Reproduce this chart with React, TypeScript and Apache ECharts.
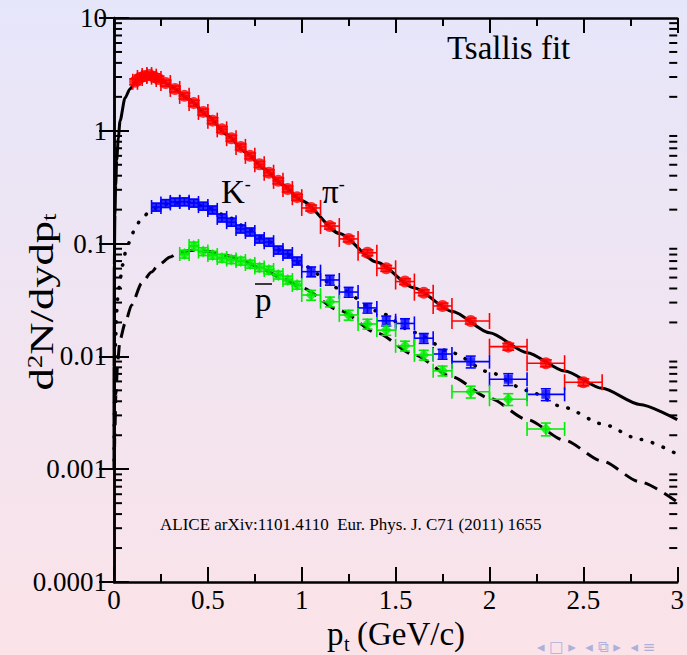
import React, { useEffect, useRef } from 'react';
import * as echarts from 'echarts';

// ---------- data ----------
// pi- (red circles)
const piX = [0.1125, 0.1375, 0.1625, 0.1875, 0.2125, 0.2375, 0.275, 0.325, 0.375, 0.425, 0.475, 0.525, 0.575, 0.625, 0.675, 0.725, 0.775, 0.825, 0.875, 0.925, 0.975, 1.05, 1.15, 1.25, 1.35, 1.45, 1.55, 1.65, 1.75, 1.9, 2.1, 2.3, 2.5];
const piY = [2.72, 2.94, 3.06, 3.12, 3.02, 2.88, 2.65, 2.35, 2.04, 1.76, 1.47, 1.23, 1.03, 0.86, 0.72, 0.6, 0.505, 0.425, 0.36, 0.305, 0.258, 0.207, 0.143, 0.11, 0.083, 0.0604, 0.0461, 0.0367, 0.028, 0.0206, 0.0122, 0.0087, 0.0059];
const piXErr = [0.0125, 0.0125, 0.0125, 0.0125, 0.0125, 0.0125, 0.025, 0.025, 0.025, 0.025, 0.025, 0.025, 0.025, 0.025, 0.025, 0.025, 0.025, 0.025, 0.025, 0.025, 0.025, 0.05, 0.05, 0.05, 0.05, 0.05, 0.05, 0.05, 0.05, 0.1, 0.1, 0.1, 0.1];
const piYErr = [0.06, 0.06, 0.06, 0.06, 0.06, 0.06, 0.06, 0.06, 0.06, 0.06, 0.06, 0.06, 0.06, 0.06, 0.06, 0.06, 0.06, 0.06, 0.06, 0.06, 0.06, 0.06, 0.06, 0.06, 0.06, 0.06, 0.06, 0.06, 0.06, 0.06, 0.07, 0.07, 0.07];

// K- (blue squares)
const kX = [0.225, 0.275, 0.325, 0.375, 0.425, 0.475, 0.525, 0.575, 0.625, 0.675, 0.725, 0.775, 0.825, 0.875, 0.925, 0.975, 1.05, 1.15, 1.25, 1.35, 1.45, 1.55, 1.65, 1.75, 1.9, 2.1, 2.3];
const kY = [0.211, 0.227, 0.234, 0.235, 0.229, 0.215, 0.199, 0.169, 0.155, 0.135, 0.127, 0.11, 0.103, 0.0878, 0.0809, 0.0702, 0.0564, 0.0476, 0.0372, 0.0269, 0.0207, 0.0196, 0.0145, 0.0105, 0.00898, 0.00627, 0.00461];
const kXErr = [0.025, 0.025, 0.025, 0.025, 0.025, 0.025, 0.025, 0.025, 0.025, 0.025, 0.025, 0.025, 0.025, 0.025, 0.025, 0.025, 0.05, 0.05, 0.05, 0.05, 0.05, 0.05, 0.05, 0.05, 0.1, 0.1, 0.1];
const kYErr = [0.08, 0.08, 0.08, 0.08, 0.08, 0.08, 0.08, 0.08, 0.08, 0.08, 0.08, 0.08, 0.08, 0.08, 0.08, 0.08, 0.1, 0.1, 0.1, 0.1, 0.1, 0.1, 0.1, 0.1, 0.12, 0.12, 0.12];

// anti-proton (green diamonds)
const pX = [0.375, 0.425, 0.475, 0.525, 0.575, 0.625, 0.675, 0.725, 0.775, 0.825, 0.875, 0.925, 0.975, 1.05, 1.15, 1.25, 1.35, 1.45, 1.55, 1.65, 1.75, 1.9, 2.1, 2.3];
const pY = [0.0809, 0.0953, 0.0851, 0.0792, 0.0745, 0.0722, 0.0701, 0.0659, 0.0614, 0.0583, 0.0527, 0.0476, 0.0429, 0.035, 0.0305, 0.0233, 0.0194, 0.0171, 0.0124, 0.0103, 0.00746, 0.00486, 0.00417, 0.00227];
const pXErr = [0.025, 0.025, 0.025, 0.025, 0.025, 0.025, 0.025, 0.025, 0.025, 0.025, 0.025, 0.025, 0.025, 0.05, 0.05, 0.05, 0.05, 0.05, 0.05, 0.05, 0.05, 0.1, 0.1, 0.1];
const pYErr = [0.08, 0.08, 0.08, 0.08, 0.08, 0.08, 0.08, 0.08, 0.08, 0.08, 0.08, 0.08, 0.08, 0.1, 0.1, 0.1, 0.1, 0.1, 0.1, 0.1, 0.1, 0.12, 0.12, 0.13];

// Tsallis fit curves
const piFitX = [0.00003, 0.0002, 0.0016, 0.005, 0.009, 0.0144, 0.023, 0.032, 0.0585, 0.085, 0.112, 0.15, 0.2, 0.25, 0.3, 0.4, 0.5, 0.6, 0.7, 0.8, 0.9, 1.0, 1.2, 1.4, 1.6, 1.8, 2.0, 2.2, 2.4, 2.6, 2.8, 3.0];
const piFitY = [0.001, 0.008, 0.065, 0.18, 0.33, 0.55, 0.86, 1.22, 1.95, 2.35, 2.65, 3.0, 3.05, 2.85, 2.5, 1.9, 1.35, 0.925, 0.648, 0.46, 0.33, 0.24, 0.123, 0.0684, 0.0405, 0.0251, 0.0162, 0.0108, 0.00741, 0.00521, 0.00375, 0.00275];
const kFitX = [0.0007, 0.0015, 0.004, 0.008, 0.0144, 0.0176, 0.0266, 0.0356, 0.046, 0.062, 0.085, 0.108, 0.1436, 0.2, 0.25, 0.3, 0.4, 0.5, 0.6, 0.7, 0.8, 0.9, 1.0, 1.2, 1.4, 1.6, 1.8, 2.0, 2.2, 2.4, 2.6, 2.8, 3.0];
const kFitY = [0.0012, 0.0026, 0.0069, 0.0138, 0.0249, 0.0316, 0.0404, 0.0509, 0.0646, 0.0848, 0.105, 0.132, 0.165, 0.2, 0.218, 0.228, 0.232, 0.2094, 0.175, 0.1406, 0.1104, 0.0853, 0.065, 0.0401, 0.0253, 0.0163, 0.01076, 0.00724, 0.00499, 0.00352, 0.00252, 0.00184, 0.00136];
const pFitX = [0.002, 0.004, 0.01, 0.02, 0.032, 0.0585, 0.094, 0.147, 0.2, 0.236, 0.3, 0.334, 0.4, 0.5, 0.6, 0.7, 0.8, 0.9, 1.0, 1.2, 1.4, 1.6, 1.8, 2.0, 2.2, 2.4, 2.6, 2.8, 3.0];
const pFitY = [0.001, 0.0019, 0.0046, 0.0092, 0.014, 0.0196, 0.0286, 0.0445, 0.056, 0.0646, 0.076, 0.081, 0.087, 0.0855, 0.0783, 0.0686, 0.0583, 0.0488, 0.0405, 0.0256, 0.01614, 0.01028, 0.00659, 0.00426, 0.00276, 0.0018, 0.00118, 0.000774, 0.000512];

// axes
const xTickLabels = ['0', '0.5', '1', '1.5', '2', '2.5', '3'];
const yTickLabels = ['0.0001', '0.001', '0.01', '0.1', '1', '10'];
const yMinorTicks = [
  0.0002, 0.0003, 0.0004, 0.0005, 0.0006, 0.0007, 0.0008, 0.0009,
  0.002, 0.003, 0.004, 0.005, 0.006, 0.007, 0.008, 0.009,
  0.02, 0.03, 0.04, 0.05, 0.06, 0.07, 0.08, 0.09,
  0.2, 0.3, 0.4, 0.5, 0.6, 0.7, 0.8, 0.9,
  2, 3, 4, 5, 6, 7, 8, 9,
];

const SERIF = 'Liberation Serif';
const RED = '#ff0000';
const BLUE = '#0000ff';
const GREEN = '#00ee00';

function errRenderer(color: string, capX: number, capY: number) {
  return (params: any, api: any) => {
    const x = api.value(0);
    const y = api.value(1);
    const dx = api.value(2);
    const dy = api.value(3);
    const c = api.coord([x, y]);
    const l = api.coord([x - dx, y]);
    const r = api.coord([x + dx, y]);
    const t = api.coord([x, y * (1 + dy)]);
    const b = api.coord([x, y * (1 - dy)]);
    const style = { stroke: color, lineWidth: 1.6 };
    return {
      type: 'group',
      children: [
        { type: 'line', shape: { x1: l[0], y1: c[1], x2: r[0], y2: c[1] }, style },
        { type: 'line', shape: { x1: l[0], y1: c[1] - capX, x2: l[0], y2: c[1] + capX }, style },
        { type: 'line', shape: { x1: r[0], y1: c[1] - capX, x2: r[0], y2: c[1] + capX }, style },
        { type: 'line', shape: { x1: c[0], y1: t[1], x2: c[0], y2: b[1] }, style },
        { type: 'line', shape: { x1: c[0] - capY, y1: t[1], x2: c[0] + capY, y2: t[1] }, style },
        { type: 'line', shape: { x1: c[0] - capY, y1: b[1], x2: c[0] + capY, y2: b[1] }, style },
      ],
    };
  };
}

function zip2(a: number[], b: number[]) {
  return a.map((v, i) => [v, b[i]]);
}
function zip4(a: number[], b: number[], c: number[], d: number[]) {
  return a.map((v, i) => [v, b[i], c[i], d[i]]);
}

function serifText(size: number, extra: any = {}) {
  return { fontSize: size, fontFamily: SERIF, fill: '#000', ...extra };
}

// single-token text whose box height is lineHeight; centred vertically on y
function label(text: string, x: number, y: number, size: number, lh: number, extra: any = {}) {
  return {
    type: 'text', x, y,
    style: {
      text: `{a|${text}}`, verticalAlign: 'middle', align: 'left',
      rich: { a: serifText(size, { lineHeight: lh }) },
    },
    ...extra,
  };
}

export default function App() {
  const ref = useRef<HTMLDivElement>(null);
  useEffect(() => {
    if (!ref.current) return;
    const chart = echarts.init(ref.current, null, { renderer: 'svg' });

    const axisLine = { show: true, lineStyle: { color: '#000', width: 2.5 } };
    const tickRich = { s: { color: '#000', fontFamily: SERIF, fontSize: 27, lineHeight: 24 } };

    const option: any = {
      animation: false,
      textStyle: { fontFamily: SERIF },
      backgroundColor: new echarts.graphic.LinearGradient(0, 0, 0, 1, [
        { offset: 0, color: '#e6e6fa' },
        { offset: 1, color: '#fbe3e8' },
      ]),
      grid: { left: 114, right: 9, top: 18, bottom: 73, containLabel: false },
      xAxis: [
        {
          type: 'value', min: 0, max: 3, interval: 0.5, position: 'bottom',
          axisLine, splitLine: { show: false },
          axisTick: { show: true, inside: true, length: 15, lineStyle: { color: '#000', width: 2 } },
          minorTick: { show: true, splitNumber: 2, length: 8, lineStyle: { color: '#000', width: 2 } },
          minorSplitLine: { show: false },
          axisLabel: {
            margin: 6, rich: tickRich,
            formatter: (v: number) => `{s|${xTickLabels[Math.round(v * 2)] ?? ''}}`,
          },
        },
        {
          type: 'value', min: 0, max: 3, interval: 0.5, position: 'top',
          axisLine, splitLine: { show: false },
          axisTick: { show: true, inside: true, length: 15, lineStyle: { color: '#000', width: 2 } },
          minorTick: { show: true, splitNumber: 2, length: 8, lineStyle: { color: '#000', width: 2 } },
          axisLabel: { show: false },
        },
      ],
      yAxis: [
        {
          type: 'log', logBase: 10, min: 0.0001, max: 10, position: 'left',
          axisLine, splitLine: { show: false },
          axisTick: { show: true, inside: true, length: 15, lineStyle: { color: '#000', width: 2 } },
          axisLabel: {
            margin: 7, rich: tickRich,
            formatter: (v: number) => `{s|${yTickLabels[Math.round(Math.log10(v)) + 4] ?? ''}}`,
          },
        },
        {
          type: 'log', logBase: 10, min: 0.0001, max: 10, position: 'right',
          axisLine, splitLine: { show: false },
          axisTick: { show: true, inside: true, length: 15, lineStyle: { color: '#000', width: 2 } },
          axisLabel: { show: false },
        },
      ],
      series: [
        {
          type: 'custom', name: 'minorY', xAxisIndex: 0, yAxisIndex: 0, silent: true,
          data: yMinorTicks.map((v) => [0, v]),
          encode: { x: 0, y: 1 },
          renderItem: (params: any, api: any) => {
            const cs = params.coordSys;
            const p = api.coord([0, api.value(1)]);
            const st = { stroke: '#000', lineWidth: 2 };
            return {
              type: 'group',
              children: [
                { type: 'line', shape: { x1: cs.x, y1: p[1], x2: cs.x + 8, y2: p[1] }, style: st },
                { type: 'line', shape: { x1: cs.x + cs.width - 8, y1: p[1], x2: cs.x + cs.width, y2: p[1] }, style: st },
              ],
            };
          },
        },
        {
          type: 'line', name: 'pi fit', data: zip2(piFitX, piFitY), showSymbol: false,
          smooth: 0.25, smoothMonotone: 'x',
          lineStyle: { color: '#000', width: 3 }, z: 3,
        },
        {
          type: 'line', name: 'K fit', data: zip2(kFitX, kFitY), showSymbol: false,
          smooth: 0.25, smoothMonotone: 'x',
          lineStyle: { color: '#000', width: 3.5, type: [0.5, 11], cap: 'round' }, z: 3,
        },
        {
          type: 'line', name: 'pbar fit', data: zip2(pFitX, pFitY), showSymbol: false,
          smooth: 0.25, smoothMonotone: 'x',
          lineStyle: { color: '#000', width: 3, type: [14, 8] }, z: 3,
        },
        {
          type: 'custom', name: 'pi err', data: zip4(piX, piY, piXErr, piYErr),
          encode: { x: 0, y: 1 }, renderItem: errRenderer(RED, 8, 6), z: 4,
        },
        {
          type: 'custom', name: 'K err', data: zip4(kX, kY, kXErr, kYErr),
          encode: { x: 0, y: 1 }, renderItem: errRenderer(BLUE, 7, 5), z: 4,
        },
        {
          type: 'custom', name: 'pbar err', data: zip4(pX, pY, pXErr, pYErr),
          encode: { x: 0, y: 1 }, renderItem: errRenderer(GREEN, 7, 5), z: 4,
        },
        {
          type: 'scatter', name: 'pi-', data: zip2(piX, piY), symbol: 'circle', symbolSize: 12,
          itemStyle: { color: RED }, z: 5,
        },
        {
          type: 'scatter', name: 'K-', data: zip2(kX, kY), symbol: 'rect', symbolSize: 9,
          itemStyle: { color: BLUE }, z: 5,
        },
        {
          type: 'scatter', name: 'pbar', data: zip2(pX, pY), symbol: 'diamond', symbolSize: [11, 12],
          itemStyle: { color: GREEN }, z: 5,
        },
      ],
      graphic: [
        // "Tsallis fit"
        label('Tsallis fit', 447, 48, 33, 30),
        // K-
        {
          type: 'text', x: 221, y: 175,
          style: {
            text: '{a|K}{b|-}',
            rich: {
              a: serifText(33, { lineHeight: 34 }),
              b: serifText(18, { lineHeight: 14, verticalAlign: 'top' }),
            },
          },
        },
        // pi-
        {
          type: 'text', x: 322, y: 175,
          style: {
            text: '{a|π}{b|-}',
            rich: {
              a: serifText(33, { lineHeight: 34 }),
              b: serifText(18, { lineHeight: 14, verticalAlign: 'top' }),
            },
          },
        },
        // p-bar
        label('p', 255, 300, 33, 30),
        {
          type: 'line', shape: { x1: 255, y1: 284, x2: 272, y2: 284 },
          style: { stroke: '#000', lineWidth: 1.5 },
        },
        // reference note
        label('ALICE arXiv:1101.4110  Eur. Phys. J. C71 (2011) 1655', 160, 524, 17, 16),
        // y title (rotated, slightly stretched along reading direction)
        {
          type: 'text', x: 42, y: 302, rotation: Math.PI / 2, scaleX: 1.35,
          style: {
            text: '{a|d}{b|2}{a|N/dydp}{c|t}', align: 'center', verticalAlign: 'middle',
            rich: {
              a: serifText(33, { lineHeight: 34 }),
              b: serifText(20, { lineHeight: 19, verticalAlign: 'top' }),
              c: serifText(20, { lineHeight: 19, verticalAlign: 'bottom' }),
            },
          },
        },
        // x title: p_t (GeV/c)
        label('p', 327, 634, 33, 20),
        label('t', 344, 644, 20, 12),
        label('(GeV/c)', 357, 634, 33, 20),
        // beamer navigation symbols
        {
          type: 'text', x: 537, y: 639,
          style: { text: '◂ □ ▸  ◂ ⧉ ▸  ◂ ≡', fontFamily: 'DejaVu Sans', fontSize: 15, fill: '#aeb0dc' },
        },
      ],
    };
    chart.setOption(option);
    return () => chart.dispose();
  }, []);
  return <div ref={ref} style={{ position: 'fixed', left: 0, top: 0, width: 687, height: 655 }} />;
}
